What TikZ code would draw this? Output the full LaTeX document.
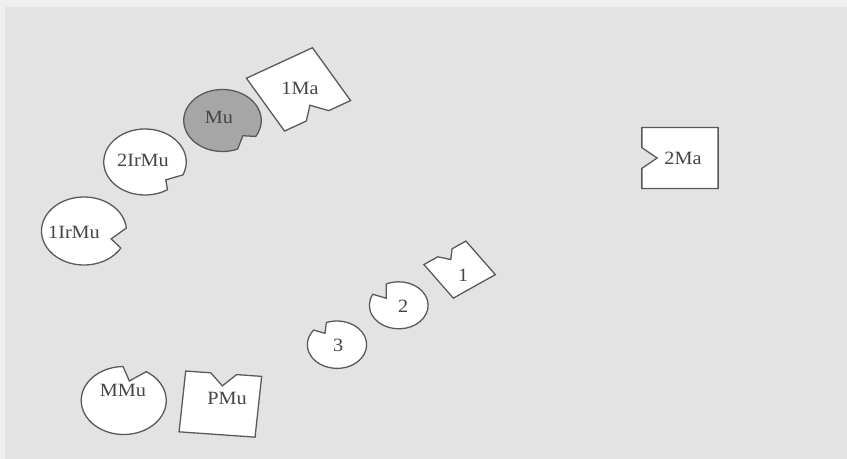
\documentclass[tikz,border=0pt]{standalone}
\usepackage{fontspec}
\setmainfont{Liberation Serif}[FakeStretch=1.08]

\definecolor{paper}{gray}{0.89}
\definecolor{rim}{gray}{0.35}
\definecolor{shade}{gray}{0.65}
\definecolor{ink}{gray}{0.27}

\tikzset{
    piece/.style={draw=rim, line width=1.1pt, fill=white, line join=miter},
    tag/.style={text=ink, font=\fontsize{16}{19}\selectfont, inner sep=0pt}
}

\begin{document}
\begin{tikzpicture}[x=0.03cm, y=0.03cm, xscale=1.25, yscale=-1]

            \fill[paper] (0,0) rectangle (677.6,459);
            \fill[white, opacity=0.45] (0,0) rectangle (677.6,7);
            \fill[white, opacity=0.45] (0,7) rectangle (4,459);

            % discs with a bite: name/x/y/radius/bite from/bite to/tip angle/tip depth/fill/label x/label y/text
            \foreach \id/\px/\py/\rd/\ga/\gb/\gt/\gd/\col/\lx/\ly/\txt in {
                    irmuA/67.2/231/34/-5/30/20/0.68/white/59.2/232/1IrMu,
                    irmuB/116/162/33/23/57/47/0.74/white/114.4/160/2IrMu,
                    mu/178/120.5/31/31/67/43/0.72/shade/175.2/117/Mu,
                    mmu/99/400.5/34/269/302/283/0.59/white/98.4/390/MMu,
                    dB/319/305.3/23.5/208/245/215/0.52/white/322.6/306.7/2,
                    dC/269.6/344.7/23.7/218/249/230/0.63/white/270.6/345/3}{
                \draw[piece, fill=\col, shift={(\px,\py)}]
                    (\gb:\rd) arc[start angle=\gb, end angle=\ga+360, radius=\rd]
                    -- (\gt:{\gd*\rd}) -- cycle;
                \node[tag] (\id) at (\lx,\ly) {\txt};
            }

            % squares with a notch on one side: name/x/y/side/turn/label x/label y/text
            \foreach \id/\px/\py/\sd/\rot/\lx/\ly/\txt in {
                    maA/238.8/89.4/61/-30/240/88/1Ma,
                    maB/544/158/61/90/546.4/158/2Ma,
                    sqA/367.7/269.6/41/145/370.6/275/1,
                    pmu/176.3/404.1/61/185/181.6/398/PMu}{
                \draw[piece, shift={(\px,\py)}, rotate=\rot]
                    (-\sd/2,-\sd/2) -- (\sd/2,-\sd/2) -- (\sd/2,\sd/2) -- ({0.17*\sd},\sd/2)
                    -- (0,{0.3*\sd}) -- ({-0.17*\sd},\sd/2) -- (-\sd/2,\sd/2) -- cycle;
                \node[tag] (\id) at (\lx,\ly) {\txt};
            }

        \end{tikzpicture}
\end{document}
